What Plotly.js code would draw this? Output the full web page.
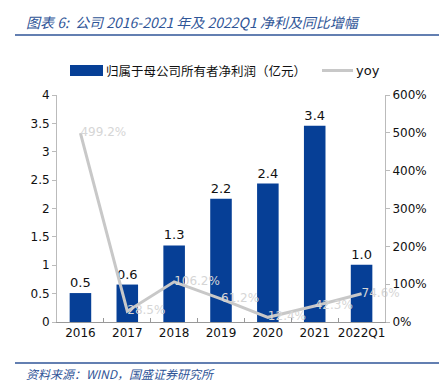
<!DOCTYPE html>
<html><head><meta charset="utf-8">
<script src="https://cdn.plot.ly/plotly-3.0.1.min.js"></script>
<style>html,body{margin:0;padding:0;background:#fff}#c{width:439px;height:383px}</style>
</head><body><div id="c"></div>
<script>
const categories = ['2016','2017','2018','2019','2020','2021','2022Q1'];
const netProfit = [0.51, 0.66, 1.35, 2.17, 2.44, 3.46, 1.01];
const netProfitLabels = ['0.5','0.6','1.3','2.2','2.4','3.4','1.0'];
const yoy = [499.2, 28.5, 106.2, 61.2, 12.4, 42.3, 74.6];
const leftTicks = [0,0.5,1,1.5,2,2.5,3,3.5,4];
const rightTicks = [0,100,200,300,400,500,600];

const BLUE = '#063F96';
const GRAY = '#C8C8C8';
const TXT = '"DejaVu Sans", sans-serif';
const CJK = '"Noto Sans CJK SC", sans-serif';
const TITLEBLUE = '#2F5597';

const traces = [
  {type:'bar', x:categories, y:netProfit, name:'归属于母公司所有者净利润（亿元）',
   marker:{color:BLUE}, text:netProfitLabels, textposition:'outside', cliponaxis:false,
   textfont:{family:TXT, size:13, color:'#111'}, hoverinfo:'skip'},
  {type:'scatter', mode:'lines+text', x:categories, y:yoy, yaxis:'y2', name:'yoy',
   line:{color:GRAY, width:3}, text:yoy.map(v=>v.toFixed(1)+'%'),
   textposition:'middle right', textfont:{family:TXT, size:12, color:'#D6D6D6'},
   cliponaxis:false, hoverinfo:'skip'}
];

const px = x => (x-57)/328, py = y => (322-y)/227;

const layout = {
  width:439, height:383, showlegend:false,
  margin:{l:57, r:54, t:95, b:61},
  paper_bgcolor:'#fff', plot_bgcolor:'#fff',
  bargap:0.54,
  font:{family:TXT, size:12, color:'#111'},
  xaxis:{type:'category', showline:true, linecolor:'#999', linewidth:1,
    ticks:'inside', tickson:'boundaries', ticklen:4, tickcolor:'#999', tickangle:0,
    tickfont:{family:TXT, size:12, color:'#111'}, showgrid:false, fixedrange:true},
  yaxis:{range:[0,4], tickvals:leftTicks, ticktext:leftTicks.map(String), showline:true, linecolor:'#BBB', linewidth:1,
    ticks:'outside', ticklen:4, tickcolor:'#BBB', showgrid:false, zeroline:false,
    tickfont:{family:TXT, size:12, color:'#111'}},
  yaxis2:{range:[0,600], overlaying:'y', side:'right', tickvals:rightTicks,
    ticktext:rightTicks.map(v=>v+'%'), showline:true, linecolor:'#BBB', linewidth:1,
    ticks:'outside', ticklen:4, tickcolor:'#BBB', showgrid:false, zeroline:false,
    tickfont:{family:TXT, size:12, color:'#111'}},
  shapes:[
    {type:'line', xref:'paper', yref:'paper', x0:px(15), x1:px(439), y0:py(35), y1:py(35), line:{color:TITLEBLUE, width:1.5}},
    {type:'line', xref:'paper', yref:'paper', x0:px(15), x1:px(439), y0:py(363), y1:py(363), line:{color:TITLEBLUE, width:1.5}},
    {type:'rect', xref:'paper', yref:'paper', x0:px(70), x1:px(103), y0:py(76), y1:py(65), fillcolor:BLUE, line:{width:0}},
    {type:'line', xref:'paper', yref:'paper', x0:px(322), x1:px(353), y0:py(70.5), y1:py(70.5), line:{color:GRAY, width:3}}
  ],
  annotations:[
    {xref:'paper', yref:'paper', x:px(24), y:py(22), xanchor:'left', yanchor:'middle', showarrow:false,
     text:'<i>图表 6:  公司 2016-2021 年及 2022Q1 净利及同比增幅</i>', font:{family:CJK, size:14, color:TITLEBLUE}},
    {xref:'paper', yref:'paper', x:px(24), y:py(373), xanchor:'left', yanchor:'middle', showarrow:false,
     text:'<i>资料来源：WIND，国盛证券研究所</i>', font:{family:CJK, size:12, color:TITLEBLUE}},
    {xref:'paper', yref:'paper', x:px(104), y:py(70.5), xanchor:'left', yanchor:'middle', showarrow:false,
     text:'归属于母公司所有者净利润（亿元）', font:{family:CJK, size:12.5, color:'#111'}},
    {xref:'paper', yref:'paper', x:px(354), y:py(70.5), xanchor:'left', yanchor:'middle', showarrow:false,
     text:'yoy', font:{family:TXT, size:13, color:'#111'}}
  ]
};
Plotly.newPlot('c', traces, layout, {staticPlot:true, displayModeBar:false});
</script></body></html>
